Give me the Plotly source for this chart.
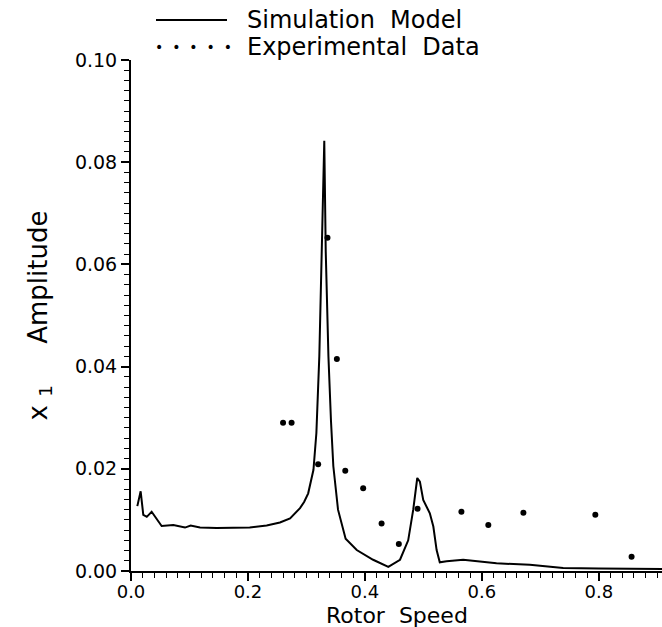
import plotly.graph_objects as go

# Simulation model curve (rotor speed, x1 amplitude)
sim_speed = [0.0108, 0.0165, 0.021, 0.027, 0.0353, 0.041, 0.0524, 0.0724, 0.0923, 0.102,
             0.118, 0.1465, 0.175, 0.203, 0.232, 0.2547, 0.272, 0.289, 0.296, 0.303,
             0.312, 0.317, 0.322, 0.326, 0.3305, 0.333, 0.3376, 0.342, 0.346, 0.354,
             0.367, 0.386, 0.414, 0.44, 0.46, 0.474, 0.4826, 0.4895, 0.494, 0.4997,
             0.511, 0.517, 0.5226, 0.528, 0.5397, 0.568, 0.597, 0.625, 0.682, 0.739,
             0.80, 0.91]
sim_amp = [0.0127, 0.0156, 0.0110, 0.0106, 0.0116, 0.0106, 0.0088, 0.0090, 0.0085, 0.0089,
           0.0085, 0.0084, 0.0085, 0.0085, 0.0089, 0.0095, 0.0103, 0.0123, 0.0135, 0.0152,
           0.0198, 0.0270, 0.042, 0.062, 0.0842, 0.0625, 0.042, 0.0293, 0.0205, 0.0120,
           0.0063, 0.0041, 0.0022, 0.0008, 0.0022, 0.0060, 0.0120, 0.0182, 0.0175, 0.0139,
           0.0113, 0.0087, 0.0041, 0.0017, 0.0019, 0.0022, 0.0018, 0.0015, 0.0012, 0.0006,
           0.0005, 0.0004]

# Experimental data points
exp_speed = [0.260, 0.2746, 0.320, 0.336, 0.352, 0.3664, 0.397, 0.4285, 0.458, 0.490,
             0.565, 0.611, 0.671, 0.794, 0.856]
exp_amp = [0.0290, 0.0290, 0.0209, 0.0652, 0.0415, 0.0196, 0.0162, 0.0093, 0.0053, 0.0122,
           0.0116, 0.0090, 0.0114, 0.0110, 0.0028]

x_ticks = [0.0, 0.2, 0.4, 0.6, 0.8]
x_ticklabels = ["0.0", "0.2", "0.4", "0.6", "0.8"]
y_ticks = [0.00, 0.02, 0.04, 0.06, 0.08, 0.10]
y_ticklabels = ["0.00", "0.02", "0.04", "0.06", "0.08", "0.10"]

FONT = "DejaVu Sans"
NB = "\u00a0"

fig = go.Figure()
fig.add_trace(go.Scatter(x=sim_speed, y=sim_amp, mode="lines",
                         line=dict(color="black", width=2), name="Simulation Model",
                         showlegend=False))
fig.add_trace(go.Scatter(x=exp_speed, y=exp_amp, mode="markers",
                         marker=dict(color="black", size=6), name="Experimental Data",
                         showlegend=False))

W, H = 662, 627
ml, mr, mt, mb = 131, 0, 60, 56
pw, ph = W - ml - mr, H - mt - mb

def px(x):
    return (x - ml) / pw

def py(y):
    return (H - mb - y) / ph

# custom legend above the plot
fig.add_shape(type="line", xref="paper", yref="paper",
              x0=px(156), x1=px(227), y0=py(20), y1=py(20),
              line=dict(color="black", width=2))
fig.add_annotation(xref="paper", yref="paper", x=px(153), y=py(47),
                   text="•  •  •  •  •", showarrow=False, xanchor="left", yanchor="middle",
                   font=dict(family=FONT, size=14, color="black"))
fig.add_annotation(xref="paper", yref="paper", x=px(245), y=py(20),
                   text="Simulation" + NB + NB + "Model", showarrow=False,
                   xanchor="left", yanchor="middle",
                   font=dict(family=FONT, size=24, color="black"))
fig.add_annotation(xref="paper", yref="paper", x=px(245), y=py(47),
                   text="Experimental" + NB + NB + "Data", showarrow=False,
                   xanchor="left", yanchor="middle",
                   font=dict(family=FONT, size=24, color="black"))

# x-axis title
fig.add_annotation(xref="paper", yref="paper", x=0.5, y=py(615),
                   text="Rotor" + NB + NB + "Speed", showarrow=False,
                   xanchor="center", yanchor="middle",
                   font=dict(family=FONT, size=22, color="black"))

fig.update_layout(
    width=W, height=H,
    margin=dict(l=ml, r=mr, t=mt, b=mb),
    paper_bgcolor="white", plot_bgcolor="white",
    font=dict(family=FONT, color="black"),
    xaxis=dict(range=[0, 0.908], tickvals=x_ticks, ticktext=x_ticklabels,
               ticks="outside", ticklen=8, tickwidth=1.5, tickcolor="black",
               ticklabelstandoff=-5,
               showline=True, linecolor="black", linewidth=2,
               showgrid=False, zeroline=False,
               minor=dict(dtick=0.02, tick0=0, ticks="outside", ticklen=5,
                          tickwidth=1.2, tickcolor="black", showgrid=False),
               tickfont=dict(size=18)),
    yaxis=dict(range=[0, 0.10], tickvals=y_ticks, ticktext=y_ticklabels,
               ticks="outside", ticklen=8, tickwidth=1.5, tickcolor="black",
               showline=True, linecolor="black", linewidth=2,
               showgrid=False, zeroline=False,
               minor=dict(dtick=0.002, tick0=0, ticks="outside", ticklen=5,
                          tickwidth=1.2, tickcolor="black", showgrid=False),
               tickfont=dict(size=19),
               title=dict(text="x" + NB + "<sub>1</sub>" + NB * 5 + "Amplitude",
                          font=dict(size=26), standoff=20)),
)

fig.write_html("out.html")
